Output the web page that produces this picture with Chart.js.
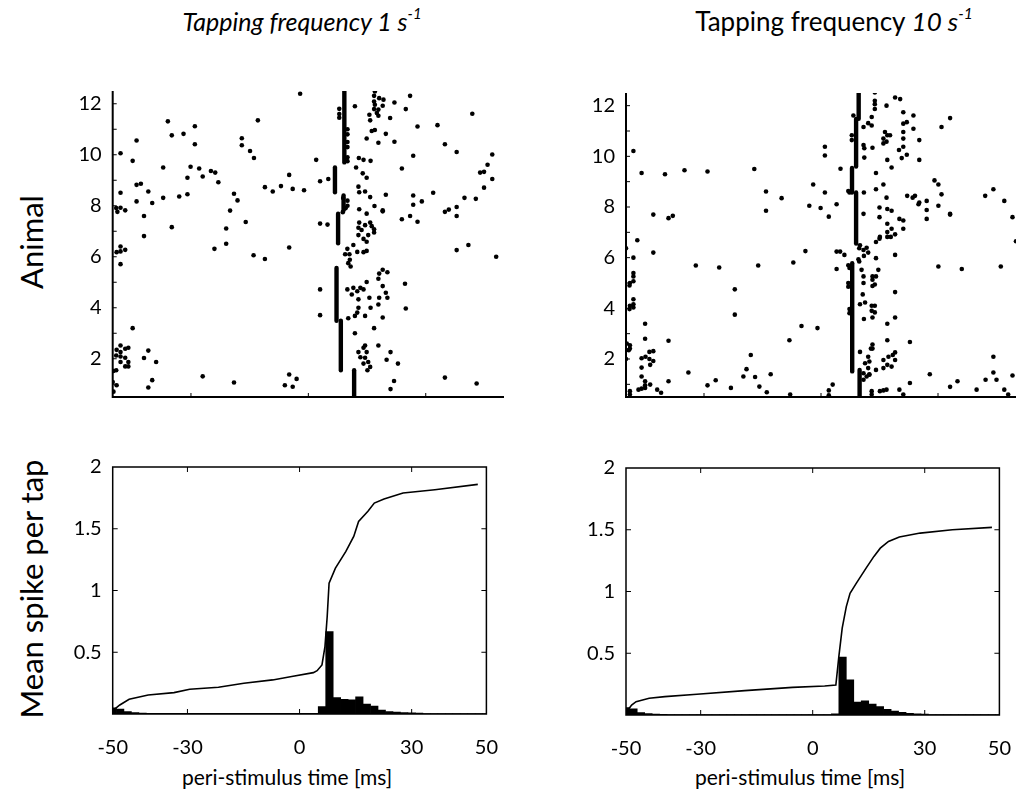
<!DOCTYPE html>
<html><head><meta charset="utf-8">
<script src="https://cdn.jsdelivr.net/npm/chart.js@4"></script>
<style>
body{margin:0;background:#fff;width:1033px;height:798px;position:relative;overflow:hidden;font-family:Lato,sans-serif;color:#000}
canvas{position:absolute}
.t{position:absolute;white-space:nowrap;transform:translate(-50%,-50%);line-height:1}
.rot{transform:translate(-50%,-50%) rotate(-90deg)}
sup{font-size:60%;vertical-align:0.75em;line-height:0}
</style></head><body>
<div class="t" style="left:302px;top:21px;font-size:25px"><i>Tapping frequency 1 s<sup>-1</sup></i></div>
<div class="t" style="left:834px;top:21px;font-size:26px">Tapping frequency <i>10 s<sup>-1</sup></i></div>
<div class="t rot" style="left:31px;top:242px;font-size:31px">Animal</div>
<div class="t rot" style="left:31px;top:589px;font-size:31px">Mean spike per tap</div>
<div class="t" style="left:287px;top:776px;font-size:21px">peri-stimulus time [ms]</div>
<div class="t" style="left:800px;top:776px;font-size:21px">peri-stimulus time [ms]</div>
<canvas id="c1" width="520" height="360" style="left:0;top:60px"></canvas>
<canvas id="c2" width="513" height="360" style="left:520px;top:60px"></canvas>
<canvas id="c3" width="520" height="358" style="left:0;top:440px"></canvas>
<canvas id="c4" width="513" height="358" style="left:520px;top:440px"></canvas>
<script>
// ---------- tick labels ----------
const xTickLabels = [-50, -30, 0, 30, 50];
const xInnerTicks = [-30, 0, 30];
const rasterYTickLabels = [2, 4, 6, 8, 10, 12];
const rasterYMinorTicks = [1, 2, 3, 4, 5, 6, 7, 8, 9, 10, 11, 12];
const histYTickLabels = [0.5, 1, 1.5, 2];
const histYInnerTicks = [0.5, 1, 1.5];

// ---------- raster, 1/s : individual spikes [ms, animal] ----------
const spikes1 = [
 [17,12.48],[16.8,12.31],[16.8,12.09],[18.1,12.22],[19.2,12.16],[19,11.92],[17,11.96],[16.8,11.79],[17.9,11.77],[17.5,11.64],[17.9,11.53],[15.6,11.57],[15.8,11.35],
 [-2.1,12.39],[11.9,11.9],[22,12.05],[26,12.31],[24.9,11.79],[41.9,11.61],[-35.9,11.31],[-12.9,11.35],[-29,11.12],[20.9,11.44],
 [-43.9,10.56],[-34.9,10.76],[-31.9,10.82],[-29,10.41],[-17,10.65],[-17,10.37],[-14.9,10.15],[-13.9,9.87],[-48,10.06],[-44.9,9.76],[-37.1,9.5],[-30.1,9.53],[-27.9,9.46],[-30.9,9.1],[-27,9.15],[-24.9,9.36],[-23.8,9.3],[-23,8.92],[-4.9,9.21],[2,9.8],[3,8.96],[5.1,9.05],
 [-43.9,8.82],[-42.8,8.86],[-48,8.51],[-40.9,8.56],[-43.9,8.17],[-39.9,8.11],[-37.1,8.31],[-33,8.36],[-30.9,8.45],[-19,8.47],[-18.1,8.21],[-11.1,8.73],[-9.1,8.56],[-7,8.77],[-4,8.66],[-1.1,8.61],
 [-20,7.81],[-16,7.36],[-21,7.11],[-21,6.51],[-24,6.31],[-14,6.06],[-11.1,5.91],[-4.9,6.36],[3,7.3],[4.9,7.26],
 [-49.1,7.91],[-48,7.92],[-46.8,7.82],[-48.8,7.76],[-42,7.6],[-42,6.81],[-34.9,7.16],
 [-49,6.18],[-48,6.21],[-46.8,6.27],[-48,6.4],[-48,5.71],[-44.9,3.2],
 [-48,2.52],[-49,2.35],[-46.8,2.39],[-48,2.26],[-49.1,2.13],[-46,2.43],[-48,2.09],[-46.8,2.04],[-48,1.87],[-46,1.87],[-46.8,1.7],[-46,1.7],[-49.8,1.52],[-49.1,1.55],[-50,1.09],[-49,0.96],[-49.8,0.71],
 [-42,2.03],[-40.9,2.32],[-38.9,1.87],[-40.9,0.87],[-39.9,1.16],[-27,1.31],[-19,1.07],[-6,0.96],[-4.9,1.38],[-4,0.9],[-3,1.21],[34.9,1.26],[43,1.03],[21.9,1.13],[21,0.81],
 [26.8,9.96],[23.9,9.46],[27.9,11.11],[33,11.16],[34.9,10.41],[37.9,10.11],[47,10.01],[45.8,9.61],[44.9,9.33],[43.9,9.3],[47,9.05],[44.9,8.71],[42.8,8.27],[39.9,8.31],[31.9,8.51],[26.8,8.4],[29,8.17],[26.8,8.04],[27.9,7.37],[26,7.6],[23.9,7.47],[34.9,7.76],[35.9,7.85],[37.9,7.95],[37.9,7.6],[37.9,6.26],[40.9,6.46],[48,6.0],
 [14.9,10.64],[16.2,10.93],[17,10.97],[19.8,10.82],[17.9,10.47],[22,10.51],[12.9,9.87],[14.1,9.8],[15.9,9.76],[12.2,9.5],[13.9,9.27],[14.9,9.1],[12.8,8.75],[13,8.53],[14.5,8.56],[15.8,8.34],[19.8,8.43],[16.9,7.99],[19,7.82],[19,7.78],[13,7.86],[14.9,7.69],
 [13,7.34],[14.5,7.24],[15.8,7.34],[16.8,7.08],[16.8,6.95],[15.3,6.85],[12.8,6.85],[14.1,6.7],[14.9,6.59],[12.8,7.14],[13.6,7.05],[16.2,7.2],
 [11.5,6.46],[9.97,6.31],[9.4,6.1],[10.5,6.1],[12.5,6.19],[14.1,6.18],[14.9,6.23],[10.6,5.88],[10.2,5.75],[10.8,5.62],
 [19,5.49],[18.1,5.34],[20.2,5.39],[17.9,5.14],[19,4.85],[19.8,4.59],[20.2,4.39],[18.1,4.39],[17.9,4.13],[19,3.62],[14.9,5.01],[14.1,4.72],[13.3,4.78],[12.5,4.65],[12.8,4.33],[12.8,4.0],[9.97,4.72],[11.5,4.78],[11.1,4.52],[15.6,4.39],[15.9,4.0],[14.5,3.68],[12.5,3.81],[11.9,3.68],[10.2,3.59],[16.8,3.2],[11.9,3.0],[24.7,4.94],[24.9,3.97],[3,4.72],[3,3.71],
 [14.5,2.52],[14.1,2.43],[12.8,2.26],[14.9,2.26],[13.3,2.06],[14.5,2.04],[15.3,1.87],[14.1,1.81],[15.8,1.68],[15.1,1.55],[17.9,2.52],[20,1.96],[21,2.26],[22.9,1.81],
 [7.9,11.8],[7.9,11.6],[7.9,11.45],[10,11.0],[10,10.8],[10,10.5],[10,10.3],[10,9.9],[10,9.75],[8.9,8.3],[10,8.2],[10,8.0],[8.8,7.75],[9.5,7.9]
];
// dense vertical spike columns [ms, from animal, to animal]
const column1 = [[9.2,9.7,12.5],[6.8,8.53,9.5],[9.0,7.82,8.4],[7.6,6.53,7.69],[7.2,3.49,5.56],[8.3,1.55,3.49],[11.7,0.52,1.55]];

// ---------- raster, 10/s ----------
const spikes10 = [
 [-48.1,10.21],[-46,9.34],[-40,9.29],[-35,9.45],[-29.1,9.4],[-17.1,9.5],[-47.1,6.69],[-43,7.7],[-39.1,7.56],[-38,7.65],[-43,6.2],[-48.1,6.0],[-50,6.37],
 [-48.1,5.39],[-48.1,5.26],[-49,5.0],[-48.1,5.07],[-49.1,4.9],[-48.1,4.36],[-48.1,4.16],[-49,4.1],[-48.1,4.03],[-49.1,3.97],[-45.1,3.39],[-45.1,2.8],
 [-49.8,2.61],[-49,2.54],[-49,2.41],[-49.3,2.35],[-50,2.0],[-46,2.03],[-45,2.09],[-46,1.66],[-44,2.28],[-43,2.31],[-44,2.0],[-43,1.92],[-43.8,1.77],[-45.1,1.12],[-46,1.31],[-45.1,0.96],[-43.8,0.99],
 [-49,0.73],[-49,0.6],[-46.8,0.79],[-46,0.83],[-45.1,0.86],[-42,0.79],[-41,0.67],[-39.1,2.72],[-39.1,1.12],[-34,1.47],[-32.1,5.69],[-26.1,5.61],[-22.1,4.75],[-22.1,3.75],
 [-29.1,0.96],[-27,1.16],[-23.1,0.86],[-19.9,1.31],[-19.1,1.6],[-18,2.16],[-16.9,1.29],[-15.8,0.91],[-13.9,0.69],[-12.9,1.4],[-16.1,5.69],[-14.1,8.61],[-14.1,7.85],[-10.1,8.35],
 [-8.1,2.74],[-7.9,0.6],[-7.1,5.81],[-5,3.3],[-4,6.26],[-3,8.05],[-2,8.89],[-0.9,3.22],[-0.1,7.96],[1,8.57],[1,10.03],[1,10.38],[2,7.62],[2,0.76],[2,0.57],[3,0.99],
 [4,8.11],[4,6.24],[4.9,6.24],[6,6.11],[4,5.55],[5,9.51],[7,5.0],[7,4.85],[7.3,3.97],[7.3,3.81],[7,8.63],[7.3,8.57],[7,5.7],[7.3,5.59],[7.9,10.83],[7.9,10.64],[8.3,11.61],
 [10.9,11.16],[12.1,11.31],[13,11.22],[11.1,10.32],[10.9,10.45],[13,11.55],[13.2,10.34],[10.9,5.26],[10.9,5.0],[10.7,4.55],[11.3,4.23],[11,3.58],[10,4.16],[10,2.28],
 [11.3,1.83],[10.9,1.44],[11.7,1.31],[10.9,1.18],[12.4,1.4],[12.4,1.9],[12.1,2.09],[12.8,2.41],[13.2,2.57],[13.2,2.41],[12.1,1.64],[12.4,1.38],
 [10,6.49],[9.8,6.37],[10.9,6.3],[11.7,6.39],[12.1,6.2],[11,6.07],[9.6,5.94],[9.8,5.85],[10.4,5.52],[10.9,7.73],[11,8.57],[11.1,9.95],[13,0.6],[13,0.73],
 [13.8,12.52],[13.8,12.19],[13.8,12.06],[13.8,11.87],[14.1,9.34],[14.1,8.7],[15,7.98],[15,7.6],[14.1,6.62],[15.1,6.82],[15,6.75],[14.1,5.98],[14.7,5.52],
 [13.2,5.26],[13.2,4.88],[13.2,5.13],[13.8,4.94],[14.1,5.26],[13,4.1],[13.8,4.1],[13,3.9],[13.8,3.84],[13.2,3.64],[14.1,1.57],[15.1,0.73],[16,0.76],[16.8,0.79],
 [16,10.7],[16,10.51],[16.8,10.58],[17,10.83],[16.8,12.0],[16.4,10.96],[17.7,10.83],[17,9.86],[18.1,9.56],[16,8.89],[16.8,8.37],[17,7.92],[18.1,7.85],[17,7.34],[18.1,7.14],[17,7.01],[19,6.92],[17.9,6.82],[17,6.82],[19,6.11],[19,4.64],[19,3.64],
 [17,3.39],[17,2.74],[17.3,2.09],[18.4,2.16],[19,2.26],[19,1.96],[16,1.96],[16,1.64],[17,1.77],[18.1,1.7],
 [19,12.32],[20.3,12.26],[21.1,11.74],[22,11.35],[21.1,11.29],[21.1,10.96],[23.7,11.09],[20,10.25],[21.1,10.38],[22,10.06],[20.7,9.93],[23.7,11.61],[25.2,10.64],[25.2,9.86],[21.1,10.7],
 [20.1,7.53],[21.1,7.47],[21.1,7.14],[22.1,8.44],[23.5,8.37],[24.1,8.44],[25,8.11],[25.2,8.18],[27.1,8.24],[27.1,7.88],[27.1,7.53],[29.1,9.05],[30.1,8.89],[30.9,8.5],[30.1,8.05],
 [30.9,11.16],[33.1,11.51],[33.1,7.73],[33.1,7.7],[30.1,5.65],[36.1,5.55],[22.8,2.67],[22.8,1.05],[27.9,1.4],[33.1,0.9],[35,1.12],
 [42.1,8.44],[44.2,8.7],[47,8.24],[49.1,7.6],[50,6.65],[46.1,5.65],[44.2,2.09],[44.2,1.47],[45,1.18],[42.2,1.18],[47,0.79],[48,0.6],[49.1,1.35],[39.9,0.79],[20.1,0.79],[21.1,0.6]
];
const column10 = [[9.66,11.48,12.52],[9.0,9.6,11.48],[7.95,8.57,9.54],[9.0,6.56,8.57],[8.0,1.51,5.78],[9.9,0.54,1.57]];

// ---------- PSTH: bin centres [ms] and mean spikes per tap ----------
const binCentres = [-50,-48,-46,-44,-42,-40,-38,-36,-34,-32,-30,-28,-26,-24,-22,-20,-18,-16,-14,-12,-10,-8,-6,-4,-2,0,2,4,6,8,10,12,14,16,18,20,22,24,26,28,30,32,34,36,38,40,42,44,46,48,50];
const psth1 = [0.05,0.04,0.02,0.012,0.008,0.006,0.005,0.005,0.005,0.005,0.005,0.005,0.005,0.005,0.005,0.005,0.005,0.005,0.005,0.005,0.005,0.005,0.005,0.005,0.005,0.005,0.005,0.006,0.06,0.668,0.132,0.119,0.114,0.14,0.081,0.065,0.032,0.02,0.015,0.012,0.01,0.007,0.004,0.004,0.004,0.004,0.004,0.004,0.004,0.004,0.004];
const psth10 = [0.06,0.05,0.02,0.012,0.008,0.005,0.004,0.004,0.004,0.004,0.004,0.004,0.004,0.004,0.004,0.004,0.004,0.004,0.004,0.004,0.004,0.004,0.004,0.004,0.004,0.004,0.004,0.004,0.01,0.468,0.284,0.105,0.114,0.089,0.068,0.046,0.032,0.022,0.013,0.01,0.007,0.004,0.004,0.004,0.004,0.004,0.004,0.004,0.004,0.004,0.004];

// ---------- cumulative spikes per tap ----------
const cum1T = [-49.8,-48.1,-45.6,-40.5,-33.6,-29.4,-21.7,-14.9,-7.2,-2.1,3.7,4.7,6.0,6.8,7.4,7.9,9.6,12.4,14.5,15.8,18.3,20.0,22.6,27.7,36.2,47.7];
const cum1V = [0.032,0.073,0.119,0.154,0.173,0.2,0.216,0.249,0.276,0.303,0.335,0.351,0.397,0.546,0.789,1.059,1.181,1.316,1.438,1.559,1.641,1.708,1.741,1.789,1.816,1.859];
const cum10T = [-49.8,-48.5,-47.3,-43.8,-39.6,-31,-18.2,-5.4,3.2,6.2,7.0,7.9,9.0,10.0,11.7,14.3,16.4,18.1,20.3,23.2,28.8,37.4,48.0];
const cum10V = [0.027,0.081,0.108,0.135,0.149,0.168,0.197,0.224,0.235,0.243,0.473,0.703,0.878,0.986,1.068,1.189,1.284,1.351,1.405,1.441,1.473,1.5,1.519];

// ---------- drawing ----------
const FONT = {family: 'Lato, sans-serif', size: 20};
Chart.defaults.font.family = 'Lato, sans-serif';
Chart.defaults.color = '#000';

const frameTicks = {
  id: 'frameTicks',
  afterDatasetsDraw(chart, args, o) {
    const {ctx, chartArea: a, scales: {x, y}} = chart;
    ctx.save();
    ctx.strokeStyle = '#000';
    ctx.lineWidth = o.axisWidth;
    ctx.beginPath();
    if (o.frame) {
      ctx.rect(a.left, a.top, a.right - a.left, a.bottom - a.top);
    } else {
      ctx.moveTo(a.left, a.top); ctx.lineTo(a.left, a.bottom); ctx.lineTo(a.right, a.bottom);
    }
    ctx.stroke();
    ctx.lineWidth = 1;
    ctx.beginPath();
    o.xTicks.forEach(v => {
      const p = x.getPixelForValue(v);
      ctx.moveTo(p, a.bottom); ctx.lineTo(p, a.bottom - o.len);
      if (o.frame) { ctx.moveTo(p, a.top); ctx.lineTo(p, a.top + o.len); }
    });
    o.yTicks.forEach(v => {
      const p = y.getPixelForValue(v);
      ctx.moveTo(a.left, p); ctx.lineTo(a.left + o.len, p);
      if (o.frame) { ctx.moveTo(a.right, p); ctx.lineTo(a.right - o.len, p); }
    });
    ctx.stroke();
    ctx.restore();
  }
};

function scalesFor(g) {
  return {
    x: {
      type: 'linear', min: -50, max: 50, offset: false,
      grid: {display: false, drawTicks: false}, border: {display: false},
      afterBuildTicks: s => { s.ticks = xTickLabels.map(v => ({value: v})); },
      afterFit: s => { s.height = g.bottomH; },
      ticks: {display: g.xLabels, font: FONT, padding: g.xPad, maxRotation: 0, autoSkip: false, callback: v => String(v)}
    },
    y: {
      type: 'linear', min: g.ymin, max: g.ymax,
      grid: {display: false, drawTicks: false}, border: {display: false},
      afterBuildTicks: s => { s.ticks = g.yLabels.map(v => ({value: v})); },
      afterFit: s => { s.width = g.leftW; },
      ticks: {font: FONT, padding: 11, autoSkip: false, callback: v => String(v)}
    }
  };
}

function raster(id, spikes, columns, g) {
  const datasets = [{
    type: 'scatter',
    data: spikes.map(p => ({x: p[0], y: p[1]})),
    pointRadius: 2.3, pointBackgroundColor: '#000', pointBorderWidth: 0, showLine: false
  }];
  columns.forEach(c => datasets.push({
    type: 'line',
    data: [{x: c[0], y: c[1]}, {x: c[0], y: c[2]}],
    borderColor: '#000', borderWidth: 4.4, borderCapStyle: 'round', pointRadius: 0, tension: 0
  }));
  new Chart(document.getElementById(id), {
    type: 'scatter',
    data: {datasets},
    options: {
      responsive: false, animation: false, events: [],
      layout: {padding: g.pad},
      plugins: {legend: {display: false}, tooltip: {enabled: false},
        frameTicks: {frame: false, axisWidth: 2, len: 4, xTicks: xInnerTicks, yTicks: rasterYMinorTicks}},
      scales: scalesFor(Object.assign({ymin: 0.5, ymax: 12.5, yLabels: rasterYTickLabels, xLabels: false, xPad: 0}, g))
    },
    plugins: [frameTicks]
  });
}

function psth(id, vals, cumT, cumV, g) {
  new Chart(document.getElementById(id), {
    type: 'bar',
    data: {datasets: [
      {type: 'line', data: cumT.map((t, i) => ({x: t, y: cumV[i]})), borderColor: '#000', borderWidth: 1.6, pointRadius: 0, tension: 0, order: 0},
      {type: 'bar', data: binCentres.map((c, i) => ({x: c, y: vals[i]})), backgroundColor: '#000', borderWidth: 0,
       barPercentage: 1, categoryPercentage: 1, grouped: false, order: 1}
    ]},
    options: {
      responsive: false, animation: false, events: [],
      layout: {padding: g.pad},
      plugins: {legend: {display: false}, tooltip: {enabled: false},
        frameTicks: {frame: true, axisWidth: 1.5, len: 5, xTicks: xInnerTicks, yTicks: histYInnerTicks}},
      scales: scalesFor(Object.assign({ymin: 0, ymax: 2, yLabels: histYTickLabels, xLabels: true, xPad: 22}, g))
    },
    plugins: [frameTicks]
  });
}

raster('c1', spikes1, column1, {leftW: 112.7, bottomH: 20, pad: {top: 31, right: 16, bottom: 0, left: 0}});
raster('c2', spikes10, column10, {leftW: 106, bottomH: 18, pad: {top: 33, right: 17, bottom: 0, left: 0}});
psth('c3', psth1, cum1T, cum1V, {leftW: 112.7, bottomH: 84, pad: {top: 27, right: 16, bottom: 0, left: 0}});
psth('c4', psth10, cum10T, cum10V, {leftW: 106, bottomH: 83, pad: {top: 28, right: 17, bottom: 0, left: 0}});
</script>
</body></html>
